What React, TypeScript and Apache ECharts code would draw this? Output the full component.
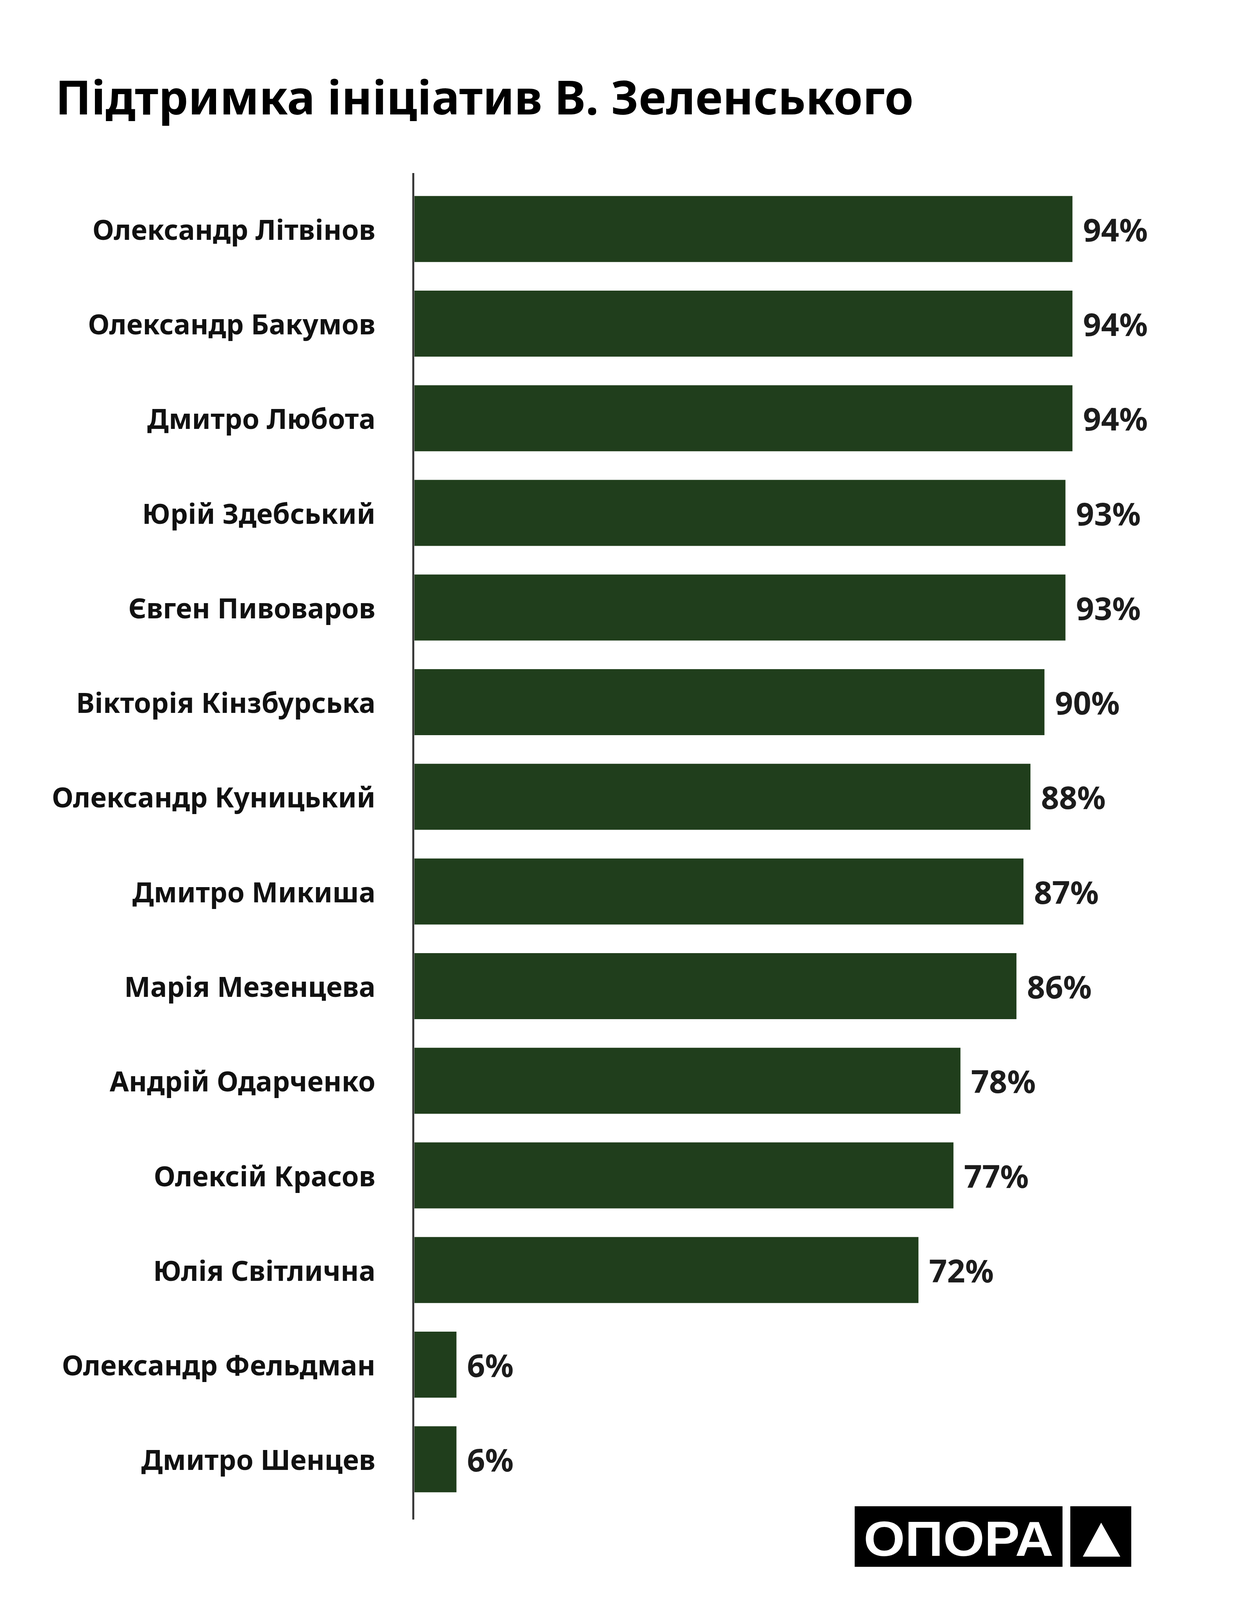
import React, { useEffect, useRef } from "react";
import * as echarts from "echarts";

const categories = [
  "Олександр Літвінов",
  "Олександр Бакумов",
  "Дмитро Любота",
  "Юрій Здебський",
  "Євген Пивоваров",
  "Вікторія Кінзбурська",
  "Олександр Куницький",
  "Дмитро Микиша",
  "Марія Мезенцева",
  "Андрій Одарченко",
  "Олексій Красов",
  "Юлія Світлична",
  "Олександр Фельдман",
  "Дмитро Шенцев",
];

const values = [94, 94, 94, 93, 93, 90, 88, 87, 86, 78, 77, 72, 6, 6];

const titleText = "Підтримка ініціатив В. Зеленського";
const logoText = "ОПОРА";

export default function App() {
  const ref = useRef<HTMLDivElement>(null);

  useEffect(() => {
    document.body.style.margin = "0";
    if (!ref.current) return;
    const chart = echarts.init(ref.current, null, { renderer: "svg" });
    const font = "'Noto Sans', 'Open Sans', sans-serif";
    chart.setOption({
      animation: false,
      backgroundColor: "#ffffff",
      grid: { left: 1061, top: 465, height: 3392, right: 347 },
      xAxis: {
        type: "value",
        min: 0,
        max: 100,
        show: false,
      },
      yAxis: {
        type: "category",
        data: categories,
        inverse: true,
        axisLine: { show: false },
        axisTick: { show: false },
        splitLine: { show: false },
        axisLabel: {
          margin: 100,
          fontFamily: font,
          fontWeight: "bold",
          fontSize: 71,
          color: "#111111",
        },
      },
      series: [
        {
          type: "bar",
          data: values,
          barWidth: 169,
          itemStyle: { color: "#203e1c" },
          label: {
            show: true,
            position: "right",
            distance: 27,
            formatter: "{c}%",
            fontFamily: font,
            fontWeight: "bold",
            fontSize: 81,
            color: "#1c1c1c",
          },
        },
      ],
      graphic: [
        {
          type: "text",
          x: 142,
          y: 246,
          style: {
            text: titleText,
            fontFamily: font,
            fontWeight: "bold",
            fontSize: 120,
            fill: "#000000",
            verticalAlign: "middle",
          },
        },
        {
          type: "line",
          shape: { x1: 1058, y1: 443, x2: 1058, y2: 3890 },
          style: { stroke: "#333333", lineWidth: 5 },
        },
        {
          type: "rect",
          shape: { x: 2188, y: 3856, width: 532, height: 155 },
          style: { fill: "#000000" },
        },
        {
          type: "rect",
          shape: { x: 2740, y: 3856, width: 156, height: 155 },
          style: { fill: "#000000" },
        },
        {
          type: "text",
          x: 2454,
          y: 3939,
          scaleX: 1.07,
          style: {
            text: logoText,
            fontFamily: "'Liberation Sans', Arial, sans-serif",
            fontWeight: "bold",
            fontSize: 127,
            fill: "#ffffff",
            align: "center",
            verticalAlign: "middle",
          },
        },
        {
          type: "polygon",
          shape: {
            points: [
              [2819, 3898],
              [2868, 3985],
              [2772, 3985],
            ],
          },
          style: { fill: "#ffffff" },
        },
      ],
    });
    return () => chart.dispose();
  }, []);

  return <div ref={ref} style={{ width: 3200, height: 4200 }} />;
}
